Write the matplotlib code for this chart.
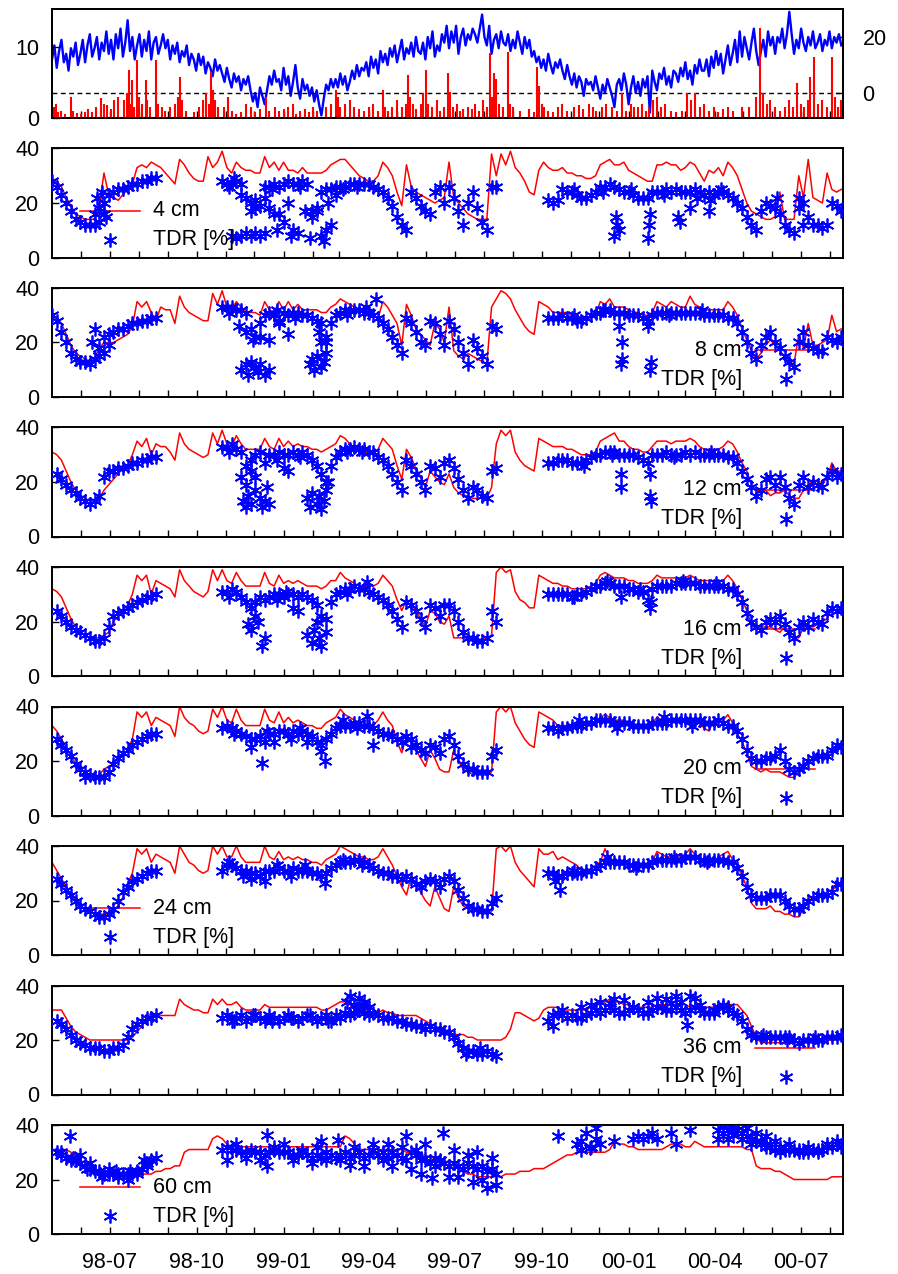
import numpy as np
import matplotlib
matplotlib.use("Agg")
import matplotlib.pyplot as plt
import matplotlib.dates as mdates
from numpy import nan

plt.rcParams['font.family'] = ['Liberation Sans', 'DejaVu Sans']

# ---------------------------------------------------------------- time base
START = np.datetime64('1998-05-01')
SPAN_DAYS = 836.8          # shown period (to mid Aug 2000)
STEP_DAYS = 5              # soil moisture sampling step
TEMP_STEP_DAYS = 2.5       # air temperature sampling step

# ---------------------------------------------------------------- weather
air_temp = [
    12, 17, 9, 15, 19, 11, 14, 8, 16, 13, 18, 10,
    14, 19, 11, 17, 21, 13, 16, 20, 12, 18, 15, 22,
    14, 19, 12, 21, 16, 23, 13, 18, 26, 15, 20, 12,
    17, 21, 13, 19, 15, 22, 12, 18, 20, 14, 17, 21,
    16, 19, 12, 17, 14, 18, 11, 15, 13, 17, 10, 14,
    12, 8, 14, 10, 13, 7, 11, 9, 6, 12, 8, 10,
    7, 4, 9, 5, 2, 7, 4, 6, 1, 5, 3, 6,
    1, -3, 0, -5, 2, -1, -4, 1, 6, 3, 8, 4,
    5, 1, 9, 3, 6, -1, 4, 10, 2, -2, 5, 1,
    3, -1, 2, -3, 1, -4, -8, -2, 3, 1, 5, 2,
    5, 2, 7, 3, 6, 1, 4, 8, 5, 10, 6, 9,
    8, 11, 6, 13, 9, 12, 7, 15, 11, 14, 10, 16,
    13, 17, 11, 15, 19, 12, 16, 14, 18, 13, 20, 15,
    14, 18, 12, 20, 16, 22, 13, 17, 15, 21, 18, 24,
    16, 22, 18, 24, 14, 20, 23, 17, 21, 19, 23, 21,
    18, 23, 28, 20, 17, 24, 14, 19, 21, 16, 22, 18,
    17, 21, 15, 19, 16, 22, 18, 14, 20, 16, 19, 13,
    15, 11, 13, 9, 12, 8, 14, 10, 7, 11, 9, 12,
    8, 5, 10, 6, 3, 7, 2, 6, 4, -1, 5, 3,
    4, 1, 6, 2, -2, 3, 0, 5, 2, -1, -5, 3,
    5, 1, 7, 3, -4, 2, 6, 0, 4, -1, 5, 2,
    6, -7, 8, 4, 1, 7, 5, 9, 3, 6, 2, 8,
    7, 4, 9, 6, 11, 5, 8, 3, 10, 7, 12, 8,
    8, 12, 6, 13, 9, 15, 10, 14, 7, 12, 17, 10,
    14, 19, 11, 22, 13, 20, 16, 12, 18, 23, 15, 10,
    15, 19, 13, 22, 17, 20, 14, 20, 18, 23, 16, 21,
    29, 21, 14, 19, 16, 23, 18, 15, 20, 17, 22, 16,
    18, 21, 15, 19, 17, 22, 16, 20, 18, 21, 17,
]

rain_day = [2, 4, 6, 9, 14, 20, 22, 26, 31, 35, 38, 42, 47, 52, 55, 58, 62, 66,
            70, 76, 79, 81, 83, 85, 87, 90, 92, 95, 99, 101, 104, 110, 112, 116,
            120, 125, 130, 133, 135, 138, 142, 150, 155, 160, 163, 166, 168, 170,
            172, 176, 182, 186, 190, 195, 200, 205, 210, 215, 220, 226, 230, 236,
            240, 245, 250, 255, 258, 262, 268, 272, 276, 280, 290, 295, 300, 303,
            305, 310, 315, 320, 325, 330, 335, 340, 345, 350, 352, 355, 360, 365,
            370, 374, 377, 379, 382, 385, 390, 393, 396, 398, 402, 407, 410, 415,
            419, 421, 424, 428, 432, 435, 440, 444, 448, 452, 456, 460, 463, 465,
            468, 470, 473, 477, 482, 485, 488, 495, 505, 510, 513, 515, 518, 521,
            525, 530, 535, 540, 545, 552, 558, 562, 568, 572, 576, 582, 586, 592,
            598, 603, 607, 612, 616, 620, 624, 628, 632, 636, 640, 644, 648, 655,
            660, 666, 672, 676, 680, 685, 690, 695, 700, 705, 710, 715, 720, 730,
            737, 745, 749, 752, 756, 760, 765, 770, 775, 780, 784, 788, 792, 796,
            800, 802, 806, 810, 815, 820, 825, 828, 832, 835]
rain_mm = [1.5, 2, 0.8, 1, 0.5, 3, 1, 0.7, 0.6, 0.8, 1.2, 0.9, 1.5, 2.8, 2, 1.8,
           1.2, 2.5, 3, 2.5, 3.5, 6.8, 2, 5.4, 1.5, 8.2, 3, 2, 5.4, 2.5, 1.5, 8.2,
           2, 1.5, 1, 1.5, 2, 3, 5.8, 2.5, 1, 0.8, 1.5, 2.5, 3.5, 2, 6.5, 4, 2.5,
           1.5, 1.5, 3, 1, 0.5, 0.8, 2, 1.5, 0.8, 1.2, 3, 1, 1.5, 1, 1.2, 1.5, 2,
           0.5, 1, 1.2, 0.8, 1.5, 1, 1.5, 2, 4, 3, 1.5, 2, 2.5, 1.5, 1.2, 1, 1.5,
           2, 1, 3.9, 1.5, 1, 1.5, 2.5, 1.5, 2, 6, 3, 2, 1.2, 2, 3.5, 6.8, 2, 1.5,
           2.5, 1, 1.5, 6.3, 3.7, 1.5, 2, 1, 1.2, 1.5, 1.2, 2, 1, 2.5, 1.5, 9.1, 3,
           6.3, 5.5, 2, 1.5, 9.3, 2, 1.5, 1, 1.2, 0.8, 7.2, 4.5, 2, 1.5, 1, 0.8,
           1.5, 2, 1, 1.5, 1.8, 1.2, 2, 1.5, 1, 1.5, 2, 1.5, 1, 3.5, 1, 2, 1.5,
           1.5, 2, 1, 1.5, 2.5, 3, 1.5, 2, 1, 0.8, 1, 3.5, 2.5, 3.5, 1.5, 2, 1,
           1.5, 0.8, 1.2, 1.5, 1, 1.5, 1.5, 3, 12.6, 3.5, 2, 2.5, 1.5, 1, 1.5,
           2.5, 1.5, 4.9, 2, 1.5, 2.5, 5.8, 8.6, 2, 2.5, 1.5, 8.6, 3, 1.5, 2.5]

# ---------------------------------------------------------------- soil moisture [%]
# model (red) and TDR (blue) on a 5-day grid, plus single scattered TDR readings
model_4 = [
    28, 28, 26, 22, 19, 16, 15, 14, 14, 14, 19, 31,
    23, 22, 21, 23, 25, 27, 33, 34, 33, 35, 34, 33,
    31, 29, 27, 36, 34, 31, 29, 28, 28, 37, 33, 35,
    39, 33, 31, 35, 33, 32, 32, 31, 31, 37, 33, 35,
    32, 35, 32, 32, 31, 33, 31, 31, 31, 31, 32, 34,
    35, 36, 36, 34, 32, 30, 29, 28, 28, 30, 35, 33,
    30, 24, 19, 34, 26, 24, 23, 22, 21, 20, 21, 22,
    35, 22, 20, 18, 16, 15, 14, 14, 14, 38, 30, 38,
    34, 39, 33, 31, 28, 24, 23, 32, 35, 33, 32, 32,
    33, 31, 31, 30, 30, 29, 29, 30, 34, 35, 36, 34,
    34, 35, 32, 31, 30, 29, 28, 28, 34, 34, 35, 34,
    34, 32, 33, 35, 34, 31, 28, 32, 31, 33, 30, 35,
    33, 30, 25, 20, 17, 16, 15, 14, 14, 15, 24, 14,
    14, 14, 30, 22, 36, 22, 21, 20, 31, 25, 24, 25]
tdr_4 = [
    28, 26, 23, 20, 17, 14, 13, 12, 12, 12, 13, 16,
    23, 24, 25, 25, 26, 27, 27, 28, 28, 29, 29, nan,
    nan, nan, nan, nan, nan, nan, nan, nan, nan, nan, nan, nan,
    28, 27, 27, 28, 27, 22, 20, 21, 19, 26, 26, 27,
    26, 27, 20, 27, 27, 28, 27, 17, 17, 24, 25, 25,
    26, 26, 26, 27, 27, 27, 27, 27, 26, 25, 24, 22,
    19, 15, 12, 10, 24, 22, 19, 17, 16, 24, 26, 20,
    26, 22, 17, 12, 20, 24, 18, 13, 10, 26, 26, nan,
    nan, nan, nan, nan, nan, nan, nan, nan, nan, 21, 20, 21,
    25, 24, 24, 23, 22, 22, 23, 24, 26, 26, 27, 26,
    25, 24, 24, 23, 22, 22, 22, 24, 24, 24, 25, 24,
    25, 24, 24, 24, 25, 24, 23, 24, 23, 24, 24, 23,
    22, 20, 18, 15, 12, 10, 17, 20, 19, 18, 16, 12,
    10, 9, 18, 20, 15, 12, 12, 11, 12, 20, 19, 17]
scatter_4 = [(9, 16), (9.5, 22), (10, 18), (10.5, 24), (11, 20), (11.5, 15),
             (38, 8), (39, 7), (40, 8), (41, 9), (42, 8), (43, 9), (44, 8), (45, 9),
             (40, 23), (42, 17), (43, 18), (45, 22), (46, 18), (47, 16), (47.5, 10),
             (48, 16), (49, 13), (50.5, 8), (51, 10), (52, 9), (53.5, 17), (54.5, 7),
             (55, 15), (56, 18), (57, 8), (57.5, 6), (58, 10), (58.5, 20), (59, 12),
             (60, 23), (119, 8), (119.3, 15), (119.6, 12), (120, 10), (126, 7),
             (126.3, 12), (126.6, 16), (132.5, 15), (132.8, 13), (135, 18),
             (139, 17), (139.3, 21), (153.5, 22), (158, 22), (159, 12),
             (37.5, 26), (38.5, 29), (46.5, 25), (50, 28), (52.5, 26), (61.5, 25),
             (64.5, 26), (110.5, 25), (116.5, 24), (122.5, 25), (129.5, 23),
             (136.5, 22), (141.5, 25)]

model_8 = [
    29, 29, 27, 23, 19, 16, 15, 14, 13, 14, 18, 20,
    20, 20, 21, 22, 23, 26, 35, 33, 35, 31, 28, 33,
    32, 32, 27, 37, 33, 31, 30, 29, 28, 28, 38, 34,
    39, 33, 32, 35, 33, 31, 31, 31, 30, 35, 32, 31,
    35, 32, 35, 32, 34, 32, 32, 32, 32, 31, 31, 33,
    34, 36, 35, 34, 33, 32, 31, 31, 30, 29, 35, 33,
    30, 27, 19, 34, 30, 25, 23, 21, 19, 27, 25, 20,
    33, 17, 15, 14, 16, 15, 14, 13, 12, 33, 36, 39,
    38, 36, 32, 29, 26, 24, 23, 35, 34, 33, 31, 31,
    31, 31, 30, 30, 29, 29, 29, 30, 35, 34, 36, 33,
    33, 33, 32, 31, 31, 30, 30, 31, 35, 34, 33, 35,
    34, 33, 33, 37, 34, 33, 32, 32, 32, 32, 32, 35,
    33, 30, 25, 21, 17, 14, 16, 19, 21, 19, 17, 15,
    13, 12, 23, 18, 27, 19, 19, 20, 21, 30, 24, 25]
tdr_8 = [
    30, 28, 24, 20, 16, 14, 13, 13, 12, 14, 18, 22,
    23, 24, 25, 25, 26, 27, 27, 28, 28, 29, 29, nan,
    nan, nan, nan, nan, nan, nan, nan, nan, nan, nan, nan, nan,
    33, 33, 33, 32, 32, 31, 25, 22, 27, 30, 31, 30,
    28, 31, 30, 31, 31, 30, 30, 29, 28, 27, 20, 27,
    30, 31, 32, 32, 32, 32, 31, 31, 30, 29, 27, 25,
    22, 19, 16, 29, 27, 24, 20, 19, 28, 27, 23, 19,
    28, 25, 20, 16, 12, 21, 18, 15, 12, 26, 25, nan,
    nan, nan, nan, nan, nan, nan, nan, nan, nan, 29, 29, 29,
    30, 29, 29, 28, 28, 29, 30, 31, 31, 32, 32, 31,
    31, 31, 30, 30, 30, 29, 28, 30, 31, 31, 31, 31,
    31, 31, 31, 31, 31, 31, 30, 30, 30, 30, 30, 29,
    29, 27, 24, 20, 16, 14, 19, 22, 24, 20, 18, 15,
    13, 11, 20, 24, 19, 18, 17, 17, 22, 21, 20, 22]
scatter_8 = [(8.5, 20), (9, 25), (10, 15), (11, 16), (12, 19), (39.5, 26), (40, 10),
             (41, 12), (41, 24), (41.5, 8), (42, 13), (42.5, 21), (43, 11), (43.5, 9),
             (44, 12), (44, 22), (45, 8), (46, 10), (46, 21), (48, 27), (50, 23),
             (54.5, 12), (55, 14), (55.5, 10), (56, 15), (56.5, 24), (57, 11),
             (57, 20), (57.5, 13), (58, 16), (58, 22), (120, 26), (120.5, 20),
             (120.3, 12), (120.6, 14), (126, 26), (126.5, 10), (126.7, 13),
             (37.5, 31), (47.5, 32), (51.5, 29), (62.5, 30), (66.5, 33), (68.5, 36),
             (110.5, 30), (116.5, 32), (130.5, 30), (137.5, 32)]

model_12 = [
    31, 30, 28, 24, 20, 17, 15, 14, 13, 13, 14, 17,
    19, 21, 23, 25, 26, 30, 35, 33, 36, 30, 34, 33,
    33, 31, 28, 38, 34, 32, 31, 30, 29, 30, 38, 34,
    39, 34, 33, 37, 34, 32, 32, 32, 32, 36, 33, 32,
    36, 33, 35, 33, 34, 33, 33, 32, 32, 31, 32, 33,
    34, 37, 36, 34, 32, 31, 31, 31, 31, 32, 36, 34,
    32, 26, 21, 32, 29, 25, 22, 18, 24, 22, 20, 19,
    23, 18, 16, 15, 15, 14, 14, 14, 14, 18, 34, 39,
    37, 39, 31, 28, 26, 25, 24, 36, 35, 34, 33, 33,
    33, 32, 32, 31, 30, 30, 30, 31, 35, 36, 37, 38,
    35, 35, 33, 32, 32, 31, 31, 33, 35, 35, 35, 34,
    35, 35, 35, 36, 35, 33, 32, 32, 32, 32, 33, 35,
    34, 31, 27, 24, 19, 17, 17, 17, 15, 16, 16, 17,
    15, 14, 14, 17, 18, 21, 20, 20, 21, 27, 24, 24]
tdr_12 = [
    nan, 23, 21, 19, 17, 16, 14, 13, 12, 13, 15, 22,
    24, 24, 25, 25, 26, 27, 27, 28, 28, 29, 29, nan,
    nan, nan, nan, nan, nan, nan, nan, nan, nan, nan, nan, nan,
    33, 33, 34, 32, 31, 26, 24, 30, 31, 27, 30, 30,
    31, 30, 30, 31, 30, 31, 30, 28, 26, 23, 20, 26,
    29, 31, 32, 32, 33, 32, 32, 31, 31, 29, 28, 26,
    23, 20, 17, 28, 26, 23, 20, 17, 26, 25, 22, 27,
    28, 25, 21, 17, 14, 18, 17, 15, 14, 24, 25, nan,
    nan, nan, nan, nan, nan, nan, nan, nan, nan, 27, 27, 28,
    28, 28, 27, 27, 27, 28, 29, 30, 30, 31, 31, 31,
    30, 30, 30, 30, 29, 28, 27, 30, 30, 30, 31, 30,
    30, 30, 31, 30, 31, 30, 30, 30, 30, 30, 30, 29,
    29, 27, 24, 21, 18, 15, 17, 21, 22, 19, 22, 18,
    14, 12, 19, 22, 18, 20, 19, 18, 22, 24, 22, 23]
scatter_12 = [(40, 22), (40.5, 13), (41, 11), (41, 19), (41.5, 15), (42, 12), (42, 28),
              (43, 17), (43, 22), (44, 14), (44.5, 11), (45, 13), (45.5, 18), (46, 12),
              (49, 25), (50, 24), (54, 14), (54.5, 11), (55, 16), (56, 12), (56.5, 15),
              (57, 10), (57.5, 13), (58, 17), (58.5, 20), (120.3, 23), (120.4, 18),
              (126.5, 23), (126.5, 15), (126.7, 13), (37.5, 31), (47.5, 28),
              (52.5, 29), (62.5, 31), (65.5, 31), (112.5, 26), (118.5, 30),
              (131.5, 29), (139.5, 31)]

model_16 = [
    32, 31, 29, 25, 21, 18, 16, 15, 14, 14, 14, 15,
    16, 20, 22, 24, 26, 30, 37, 35, 37, 30, 35, 34,
    33, 32, 29, 39, 35, 33, 31, 30, 29, 31, 39, 35,
    39, 35, 34, 38, 35, 33, 33, 33, 33, 38, 34, 33,
    37, 34, 35, 34, 35, 34, 33, 33, 33, 32, 33, 35,
    35, 38, 36, 35, 34, 33, 33, 33, 33, 34, 37, 35,
    33, 28, 24, 28, 27, 24, 21, 18, 24, 23, 20, 19,
    22, 14, 14, 14, 13, 13, 13, 13, 14, 15, 38, 40,
    38, 39, 31, 28, 27, 25, 25, 37, 36, 35, 34, 34,
    33, 33, 32, 32, 32, 32, 33, 34, 37, 38, 37, 36,
    36, 36, 35, 35, 34, 34, 34, 35, 37, 36, 36, 36,
    36, 36, 36, 37, 36, 35, 35, 35, 35, 35, 35, 37,
    35, 32, 28, 24, 19, 17, 18, 18, 18, 17, 16, 18,
    15, 14, 14, 18, 18, 18, 19, 20, 21, 25, 24, 24]
tdr_16 = [
    nan, 24, 22, 20, 18, 17, 16, 15, 14, 13, 13, 14,
    18, 22, 23, 24, 25, 26, 27, 28, 29, 29, 30, nan,
    nan, nan, nan, nan, nan, nan, nan, nan, nan, nan, nan, nan,
    31, 31, 32, 31, 29, 27, 25, 27, 29, 28, 29, 30,
    30, 29, 30, 30, 29, 30, 29, 28, 26, 22, 21, 27,
    30, 31, 32, 32, 33, 32, 32, 31, 30, 29, 28, 26,
    24, 21, 18, 27, 26, 24, 21, 18, 26, 25, 22, 26,
    26, 24, 20, 16, 14, 14, 13, 13, 14, 24, 20, nan,
    nan, nan, nan, nan, nan, nan, nan, nan, nan, 30, 30, 30,
    30, 30, 29, 30, 30, 31, 32, 33, 33, 34, 34, 33,
    33, 33, 32, 32, 31, 31, 28, 32, 33, 33, 33, 33,
    34, 34, 34, 34, 34, 33, 33, 33, 33, 33, 33, 32,
    32, 30, 27, 23, 20, 18, 17, 20, 21, 20, 22, 19,
    16, 14, 18, 20, 18, 21, 20, 19, 23, 25, 24, 25]
scatter_16 = [(41.5, 19), (42, 17), (43, 22), (43.5, 20), (44.5, 11), (45, 14), (51, 25),
              (52, 24), (54, 15), (55, 12), (55.5, 17), (56, 20), (56.5, 14), (57, 11),
              (58, 16), (66.6, 34.5), (120.3, 29), (126.5, 25), (126.7, 27),
              (37.5, 29), (47.5, 28), (49.5, 31), (62.5, 30), (110.5, 29), (117.5, 35),
              (124.5, 32), (133.5, 35), (140.5, 34)]

model_20 = [
    33, 31, 28, 25, 22, 19, 17, 16, 15, 14, 15, 17,
    18, 19, 21, 22, 24, 28, 38, 36, 38, 33, 36, 35,
    34, 33, 29, 40, 36, 34, 33, 31, 30, 31, 39, 36,
    40, 35, 34, 39, 35, 33, 33, 33, 33, 39, 35, 34,
    38, 34, 36, 34, 35, 34, 33, 33, 32, 32, 34, 35,
    36, 39, 37, 36, 35, 34, 34, 33, 33, 35, 38, 35,
    33, 27, 23, 29, 27, 24, 21, 18, 24, 21, 17, 16,
    16, 24, 20, 17, 16, 15, 15, 15, 15, 16, 38, 40,
    38, 40, 34, 31, 28, 26, 25, 38, 37, 36, 35, 33,
    33, 33, 33, 33, 33, 33, 33, 34, 36, 37, 36, 35,
    35, 35, 34, 33, 33, 33, 33, 34, 36, 35, 35, 35,
    35, 35, 35, 36, 35, 34, 32, 31, 35, 35, 35, 37,
    34, 30, 27, 23, 18, 17, 16, 17, 16, 16, 16, 15,
    14, 14, 16, 18, 20, 20, 21, 22, 23, 24, 25, 26]
tdr_20 = [
    nan, 28, 26, 24, 22, 19, 17, 16, 15, 14, 14, 14,
    16, 19, 21, 23, 24, 26, 27, 28, 29, 30, 30, nan,
    nan, nan, nan, nan, nan, nan, nan, nan, nan, nan, nan, nan,
    32, 33, 32, 31, 30, 29, 28, 28, 29, 27, 30, 30,
    31, 31, 30, 31, 30, 31, 30, 29, 27, 26, 28, 30,
    32, 33, 33, 33, 34, 34, 33, 33, 32, 31, 30, 30,
    29, 28, 27, 29, 28, 26, 24, 23, 26, 25, 23, 28,
    29, 26, 22, 19, 17, 17, 16, 16, 16, 22, 24, nan,
    nan, nan, nan, nan, nan, nan, nan, nan, nan, 32, 32, 31,
    32, 32, 33, 33, 33, 34, 34, 35, 35, 35, 35, 34,
    34, 34, 34, 33, 33, 33, 33, 34, 34, 34, 34, 35,
    35, 35, 35, 35, 35, 35, 34, 34, 34, 35, 34, 33,
    33, 31, 28, 24, 21, 20, 20, 21, 21, 22, 24, 20,
    17, 16, 17, 18, 20, 21, 22, 22, 22, 24, 26, 25]
scatter_20 = [(7, 14), (42, 25), (44.5, 19.4), (47, 27), (54, 27), (57, 23.7),
              (57.8, 20), (66.6, 36.5), (68, 26), (76, 25), (38.5, 30), (45.5, 31),
              (50.5, 28), (52.5, 32), (61.5, 35), (64.5, 32), (111.5, 35),
              (119.5, 32), (129.5, 36), (135.5, 33)]

model_24 = [
    34, 31, 28, 25, 22, 20, 18, 17, 16, 15, 15, 15,
    15, 16, 18, 21, 26, 30, 39, 37, 39, 34, 37, 36,
    35, 34, 30, 40, 37, 34, 33, 31, 30, 31, 40, 37,
    40, 36, 36, 40, 36, 34, 34, 34, 34, 40, 36, 35,
    38, 35, 36, 35, 36, 35, 35, 34, 34, 33, 35, 36,
    37, 40, 39, 38, 37, 36, 36, 35, 35, 36, 39, 36,
    33, 29, 25, 22, 29, 26, 23, 20, 18, 25, 21, 17,
    16, 25, 21, 18, 17, 16, 16, 16, 15, 16, 39, 40,
    38, 40, 34, 31, 29, 27, 25, 39, 37, 37, 38, 35,
    36, 35, 34, 33, 31, 30, 31, 33, 34, 39, 35, 33,
    33, 33, 33, 33, 33, 33, 33, 34, 38, 37, 36, 36,
    36, 36, 37, 39, 37, 35, 33, 32, 34, 36, 37, 38,
    35, 33, 29, 25, 19, 17, 17, 17, 18, 16, 16, 15,
    15, 14, 14, 17, 20, 21, 21, 22, 23, 24, 25, 27]
tdr_24 = [
    nan, 28, 26, 24, 22, 20, 18, 17, 16, 15, 14, 14,
    15, 17, 20, 23, 25, 27, 28, 29, 30, 31, 31, nan,
    nan, nan, nan, nan, nan, nan, nan, nan, nan, nan, nan, nan,
    31, 33, 33, 32, 31, 31, 30, 30, 29, 31, 31, 31,
    32, 31, 31, 32, 31, 31, 31, 30, 30, 29, 30, 32,
    33, 34, 34, 34, 35, 35, 34, 33, 32, 31, 30, 30,
    29, 29, 28, 29, 28, 26, 25, 27, 28, 27, 25, 28,
    29, 27, 24, 21, 18, 17, 17, 16, 16, 19, 21, nan,
    nan, nan, nan, nan, nan, nan, nan, nan, nan, 30, 30, 29,
    29, 30, 30, 30, 30, 31, 31, 32, 33, 34, 34, 34,
    34, 34, 33, 33, 33, 33, 33, 34, 35, 35, 35, 35,
    35, 35, 36, 36, 36, 35, 35, 35, 35, 35, 35, 34,
    34, 32, 29, 25, 22, 21, 21, 21, 22, 22, 22, 20,
    18, 17, 17, 18, 20, 21, 22, 22, 22, 23, 26, 26]
scatter_24 = [(42, 28), (45, 27), (57.8, 26.6), (106.5, 27), (107.5, 24),
              (37.5, 34), (40.5, 29), (47.5, 33), (50.5, 29), (53.5, 33), (61.5, 35),
              (65.5, 33), (110.5, 31), (117.5, 36), (123.5, 32), (131.5, 36),
              (138.5, 34)]

model_36 = [
    31, 31, 31, 28, 25, 23, 22, 21, 20, 20, 20, 20,
    20, 20, 20, 20, 20, 21, 23, 25, 28, 30, 29, 29,
    29, 29, 29, 35, 33, 32, 31, 31, 30, 30, 35, 33,
    35, 33, 33, 34, 32, 31, 31, 31, 31, 33, 32, 32,
    32, 32, 32, 32, 32, 32, 32, 32, 32, 31, 31, 32,
    33, 34, 34, 33, 31, 30, 30, 30, 30, 30, 31, 30,
    30, 29, 29, 29, 29, 29, 28, 27, 26, 25, 23, 22,
    22, 22, 22, 22, 21, 21, 20, 20, 20, 20, 20, 20,
    21, 24, 30, 30, 29, 28, 27, 28, 31, 32, 32, 32,
    31, 31, 31, 31, 31, 31, 32, 33, 33, 34, 35, 34,
    34, 33, 33, 32, 32, 32, 32, 32, 33, 33, 33, 33,
    33, 33, 33, 32, 32, 32, 32, 32, 32, 33, 33, 33,
    33, 33, 31, 29, 25, 21, 19, 19, 19, 19, 19, 19,
    19, 19, 19, 19, 19, 19, 19, 19, 20, 20, 20, 20]
tdr_36 = [
    nan, 27, 26, 24, 22, 20, 19, 18, 17, 17, 17, 16,
    16, 17, 17, 18, 21, 24, 26, 27, 28, 28, 29, nan,
    nan, nan, nan, nan, nan, nan, nan, nan, nan, nan, nan, nan,
    28, 29, 27, 28, 29, 27, 28, 29, 28, 27, 29, 28,
    27, 28, 29, 28, 27, 28, 29, 28, 27, 28, 29, 27,
    29, 28, 30, 29, 30, 31, 30, 29, 30, 29, 28, 28,
    28, 27, 27, 26, 26, 25, 25, 24, 25, 24, 24, 23,
    23, 21, 19, 17, 16, 16, 15, 15, 16, 15, 14, nan,
    nan, nan, nan, nan, nan, nan, nan, nan, nan, 27, 29, 30,
    29, 28, 29, 28, 28, 29, 30, 31, 30, 31, 32, 31,
    30, 30, 31, 32, 31, 30, 30, 31, 32, 32, 31, 31,
    32, 31, 30, 31, 32, 31, 30, 30, 31, 32, 32, 31,
    30, 29, 27, 24, 22, 21, 21, 21, 21, 21, 21, 21,
    21, 20, 19, 20, 20, 20, 20, 20, 21, 21, 21, 22]
scatter_36 = [(62.5, 34), (63, 36), (64, 33), (65, 35.5), (65.5, 33), (64.5, 31),
              (66, 34), (67, 32), (106, 25), (108, 31), (112, 32), (114, 33), (116, 34),
              (118, 33.5), (119, 35), (121, 34.5), (123, 32), (126, 34), (128, 35.5),
              (130, 35), (131, 33.5), (132, 36), (133, 34), (134.3, 25.4), (135, 36),
              (136, 35.5), (137, 33), (140, 30), (142, 33), (143, 32),
              (38.5, 27), (42.5, 29), (46.5, 27), (50.5, 28), (54.5, 29), (58.5, 27),
              (87.5, 15), (90.5, 17), (150.5, 22), (155.5, 20), (161.5, 21)]

model_60 = [
    31, 31, 31, 31, 30, 29, 27, 26, 25, 24, 23, 22,
    22, 21, 21, 21, 21, 21, 21, 22, 22, 22, 23, 23,
    24, 24, 25, 25, 30, 31, 31, 31, 31, 31, 35, 36,
    35, 33, 32, 32, 32, 32, 32, 32, 32, 32, 32, 32,
    32, 32, 32, 32, 32, 32, 32, 32, 32, 32, 32, 32,
    32, 32, 36, 35, 33, 31, 31, 31, 31, 31, 31, 31,
    31, 31, 31, 30, 30, 30, 29, 29, 28, 28, 28, 27,
    26, 25, 24, 23, 22, 22, 21, 21, 21, 21, 21, 21,
    22, 22, 22, 23, 23, 23, 24, 24, 24, 25, 26, 27,
    28, 29, 29, 30, 30, 30, 30, 30, 30, 30, 31, 34,
    33, 33, 32, 32, 31, 31, 31, 31, 31, 31, 32, 33,
    33, 33, 32, 32, 34, 33, 32, 32, 32, 32, 32, 32,
    32, 32, 32, 31, 31, 25, 24, 24, 24, 23, 23, 22,
    21, 20, 20, 20, 20, 20, 20, 20, 20, 21, 21, 21]
tdr_60 = [
    nan, 30, 29, 28, 27, 27, 26, 25, 24, 23, 23, 22,
    22, 22, 21, 22, 22, 22, 23, 24, 26, 27, 28, nan,
    nan, nan, nan, nan, nan, nan, nan, nan, nan, nan, nan, nan,
    31, 32, 31, 31, 30, 30, 31, 30, 30, 29, 30, 31,
    30, 30, 30, 29, 29, 30, 29, 28, 29, 28, 30, 29,
    28, 29, 30, 28, 29, 30, 28, 29, 31, 29, 30, 28,
    30, 29, 28, 27, 30, 29, 27, 28, 26, 28, 27, 26,
    25, 26, 25, 24, 26, 25, 24, 25, 23, 24, 22, nan,
    nan, nan, nan, nan, nan, nan, nan, nan, nan, nan, nan, 36,
    nan, nan, nan, 33, 34, 37, 32, 39, 33, nan, nan, 34,
    nan, nan, nan, 35, 36, 35, 36, 37, 35, nan, nan, 37,
    33, nan, nan, 38, nan, nan, nan, nan, nan, 38, 37, 38,
    39, 38, 37, 36, 35, 34, 33, 32, 32, 31, 32, 31,
    31, 31, 30, 30, 30, 31, 30, 31, 32, 32, 33, 32]
scatter_60 = [(2, 30), (3.8, 36), (6, 29), (8, 26), (12, 24), (14, 22), (16, 20), (18, 22),
              (20, 25), (37, 27), (39, 33), (41, 28), (44, 27), (45.4, 36.4), (45.4, 25),
              (47, 32), (49, 33), (51, 27), (53, 31), (55, 26), (56, 32), (57, 34),
              (58, 27), (60.6, 34.6), (61, 27), (63, 25.4), (64, 32), (66, 25), (68, 33),
              (70, 27), (71, 33), (72, 25), (74, 32), (75, 35.8), (76, 24), (77, 31),
              (78, 22), (79, 33), (80.5, 20.5), (81, 25), (82.8, 37), (84, 21), (85, 31),
              (86, 21), (88, 29), (89, 19), (90, 30), (91, 20), (92, 17), (93, 28),
              (94, 18), (112, 31), (113.8, 31.5), (115, 35), (141, 35), (142, 40),
              (143, 35), (144, 36.5), (145, 39.5), (146, 35), (147, 39), (148, 33),
              (149, 37), (150, 34), (151, 36), (152, 33), (153, 34), (154, 30), (156, 33),
              (158, 31), (160, 32), (162, 31), (164, 33), (166, 34),
              (4.5, 28), (7.5, 24), (10.5, 21), (13.5, 23), (16.5, 23), (19.5, 27)]

depth_labels = ['4 cm', '8 cm', '12 cm', '16 cm', '20 cm', '24 cm', '36 cm', '60 cm']
models = [model_4, model_8, model_12, model_16, model_20, model_24, model_36, model_60]
tdrs = [tdr_4, tdr_8, tdr_12, tdr_16, tdr_20, tdr_24, tdr_36, tdr_60]
scatters = [scatter_4, scatter_8, scatter_12, scatter_16, scatter_20, scatter_24,
            scatter_36, scatter_60]
key_side = ['left', 'right', 'right', 'right', 'right', 'left', 'right', 'left']

# ---------------------------------------------------------------- figure
RED = '#ff0000'
BLUE = '#0000ff'
FS = 15.5
STAR = (6, 2, 0)
STAR_MS = 10
STAR_MEW = 1.25

W, H = 898, 1274
fig = plt.figure(figsize=(W / 100, H / 100), dpi=100)

x0 = mdates.date2num(START)


def panel_rect(k):
    left, right = 52, 843
    bottom_px = 118 + 139.5 * k
    height = 109
    return [left / W, 1 - bottom_px / H, (right - left) / W, height / H]


month_ticks = [mdates.date2num(np.datetime64('1998-06') + np.timedelta64(m, 'M'))
               for m in range(0, 27)]


def style_axes(ax, show_dates):
    ax.set_xlim(x0, x0 + SPAN_DAYS)
    ax.set_xticks(month_ticks)
    if show_dates:
        labels = []
        for t in month_ticks:
            d = mdates.num2date(t)
            labels.append(d.strftime('%y-%m') if d.month in (1, 4, 7, 10) else '')
        ax.set_xticklabels(labels)
    else:
        ax.set_xticklabels([])
    ax.tick_params(axis='x', direction='in', length=5, width=1.0, labelsize=FS, pad=13)
    ax.tick_params(axis='y', direction='in', length=5, width=1.0, labelsize=FS, pad=9)
    for s in ax.spines.values():
        s.set_linewidth(1.4)


# top panel: rain (left axis) and air temperature (right axis)
ax = fig.add_axes(panel_rect(0))
axT = ax.twinx()
ax.set_zorder(axT.get_zorder() + 1)
ax.patch.set_visible(False)

x_temp = x0 + TEMP_STEP_DAYS * np.arange(len(air_temp))
axT.plot(x_temp, air_temp, color=BLUE, lw=1.7)
axT.axhline(0, color='black', lw=1.0, ls=(0, (3.5, 2.5)), zorder=3)
axT.set_ylim(-8.9, 30)
axT.set_yticks([0, 20])
axT.tick_params(axis='y', direction='in', length=5, width=1.0, labelsize=FS, pad=14)
for s in axT.spines.values():
    s.set_linewidth(1.4)

ax.vlines(x0 + np.asarray(rain_day, float), 0, rain_mm, color=RED, lw=1.5)
ax.set_ylim(0, 15.3)
ax.set_yticks([0, 10])
style_axes(ax, False)
axT.set_xlim(x0, x0 + SPAN_DAYS)

# soil moisture panels
x_grid = x0 + STEP_DAYS * np.arange(len(model_4))
for k, (lab, mod, tdr, sc, side) in enumerate(
        zip(depth_labels, models, tdrs, scatters, key_side), start=1):
    ax = fig.add_axes(panel_rect(k))
    ax.plot(x_grid, mod, color=RED, lw=1.1, zorder=2)
    ax.plot(x_grid, np.array(tdr, float), ls='none', marker=STAR, ms=STAR_MS,
            mew=STAR_MEW, color=BLUE, zorder=3)
    sx = x0 + STEP_DAYS * np.array([p[0] for p in sc])
    sy = [p[1] for p in sc]
    ax.plot(sx, sy, ls='none', marker=STAR, ms=STAR_MS, mew=STAR_MEW, color=BLUE,
            zorder=3)
    ax.set_ylim(0, 40)
    ax.set_yticks([0, 20, 40])
    style_axes(ax, k == 8)

    # key
    tr = ax.transAxes
    y1, y2 = 0.431, 0.165
    if side == 'left':
        lx0, lx1, sxk, tx, ha = 0.0354, 0.111, 0.0733, 0.1277, 'left'
    else:
        lx0, lx1, sxk, tx, ha = 0.889, 0.965, 0.928, 0.872, 'right'
    ax.plot([lx0, lx1], [y1, y1], color=RED, lw=1.1, transform=tr, zorder=2)
    ax.plot([sxk], [y2], ls='none', marker=STAR, ms=STAR_MS, mew=STAR_MEW,
            color=BLUE, transform=tr, zorder=3)
    ax.text(tx, y1, lab, transform=tr, ha=ha, va='center', fontsize=FS, zorder=4)
    ax.text(tx, y2, 'TDR [%]', transform=tr, ha=ha, va='center', fontsize=FS, zorder=4)

fig.savefig('out.png', dpi=100)
